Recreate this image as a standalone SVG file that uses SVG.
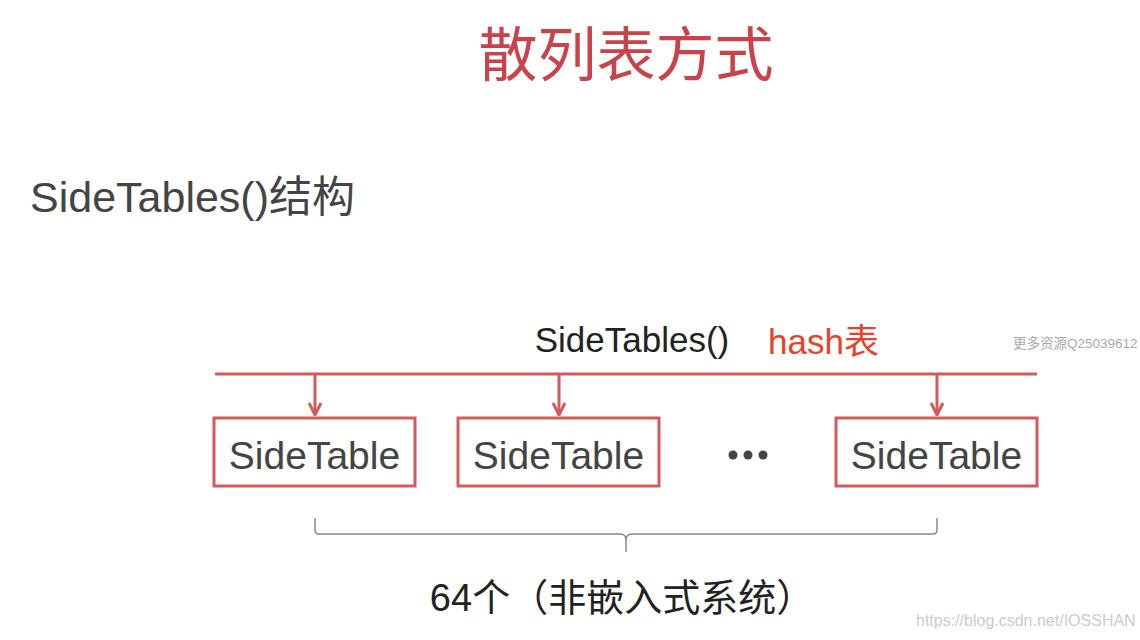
<svg xmlns="http://www.w3.org/2000/svg" width="1140" height="640" viewBox="0 0 1140 640">
<style>
.cjk{font-family:"Liberation Sans","Noto Sans CJK SC",sans-serif}
.box{fill:#ffffff;stroke:#d65a5c;stroke-width:3}
.lbl{font-family:"Liberation Sans","Noto Sans CJK SC",sans-serif;font-size:39px;fill:#444444;text-anchor:middle}
.conn{stroke:#d65a5c;stroke-width:3;fill:none}
</style>
<defs>
<marker id="arr" viewBox="0 0 14 14" refX="13" refY="7" markerWidth="14" markerHeight="14" markerUnits="userSpaceOnUse" orient="auto">
<path d="M1,1 L13,7 L1,13" fill="none" stroke="#d65a5c" stroke-width="3"/>
</marker>
</defs>
<rect width="1140" height="640" fill="#ffffff"/>
<text id="title" class="cjk" x="626" y="76" font-size="59" fill="#c8434b" text-anchor="middle">散列表方式</text>
<text id="heading" class="cjk" x="30" y="212" font-size="43" fill="#444444">SideTables()结构</text>
<g id="sidetables-label">
<text class="cjk" x="632" y="352" font-size="35" fill="#222222" text-anchor="middle">SideTables()</text>
<text class="cjk" x="768" y="354" font-size="35" fill="#e8412c">hash表</text>
</g>
<text id="watermark1" class="cjk" x="1013" y="348" font-size="13.5" fill="#aaaaaa">更多资源Q25039612</text>
<g id="connectors">
<line class="conn" x1="215" y1="374" x2="1037" y2="374" stroke-width="4"/>
<line class="conn" x1="315" y1="375" x2="315" y2="415" marker-end="url(#arr)"/>
<line class="conn" x1="559" y1="375" x2="559" y2="415" marker-end="url(#arr)"/>
<line class="conn" x1="937" y1="375" x2="937" y2="415" marker-end="url(#arr)"/>
</g>
<g id="sidetable1"><rect class="box" x="214" y="418" width="201" height="68"/><text class="lbl" x="314.5" y="469">SideTable</text></g>
<g id="sidetable2"><rect class="box" x="458" y="418" width="201" height="68"/><text class="lbl" x="558.5" y="469">SideTable</text></g>
<g id="ellipsis" fill="#444444"><circle cx="733" cy="455" r="4.5"/><circle cx="748" cy="455" r="4.5"/><circle cx="763" cy="455" r="4.5"/></g>
<g id="sidetable3"><rect class="box" x="836" y="418" width="201" height="68"/><text class="lbl" x="936.5" y="469">SideTable</text></g>
<g id="brace">
<path d="M315,518 L315,530 Q315,534 319,534 L620,534 Q626,534 626,540 L626,552 M626,540 Q626,534 632,534 L933,534 Q937,534 937,530 L937,518" fill="none" stroke="#888888" stroke-width="1.5"/>
</g>
<text id="count" class="cjk" x="622" y="611" font-size="38" fill="#222222" text-anchor="middle">64个（非嵌入式系统）</text>
<text id="watermark2" class="cjk" x="916" y="626" font-size="16" fill="#cccccc">https://blog.csdn.net/IOSSHAN</text>
</svg>
